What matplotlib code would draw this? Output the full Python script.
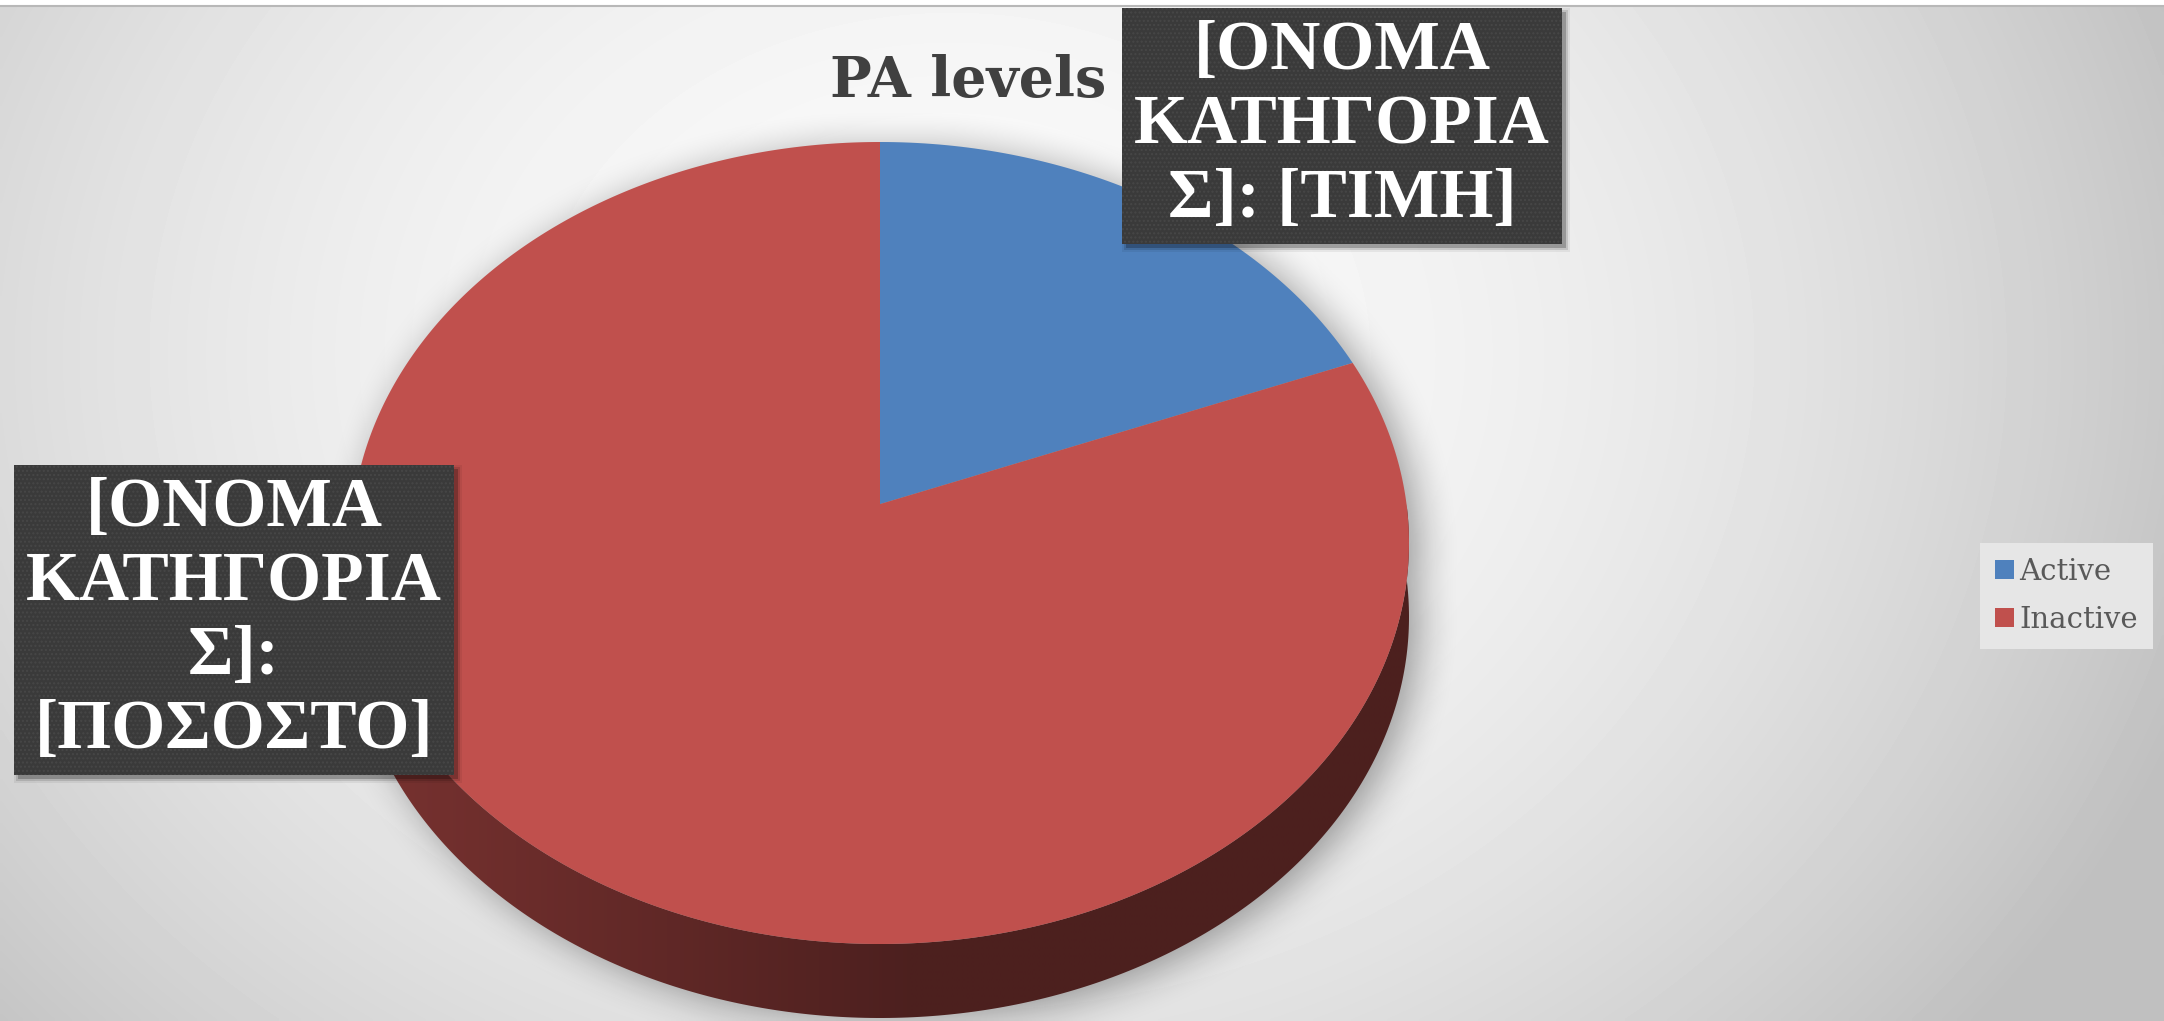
import numpy as np
import matplotlib
matplotlib.use('Agg')
import matplotlib.pyplot as plt
import matplotlib.transforms as mtransforms
from matplotlib.path import Path
from matplotlib.patches import PathPatch, Rectangle
from matplotlib.colors import LinearSegmentedColormap, to_rgb

# data
categories = ['Active', 'Inactive']
shares = [19, 81]
colors = ['#4f81bd', '#c0504d']
label_texts = ['[ΟΝΟΜΑ\nΚΑΤΗΓΟΡΙΑ\nΣ]: [ΤΙΜΗ]',
               '[ΟΝΟΜΑ\nΚΑΤΗΓΟΡΙΑ\nΣ]:\n[ΠΟΣΟΣΤΟ]']
title = 'PA levels'

W, H = 2164, 1021

# tilted disk seen in perspective (pixels, y grows downwards)
CX, CY = 880, 543
RX, RY = 529, 401
TILT = 0.097      # centre of the disk sits this much above the ellipse middle
DEPTH = 74        # thickness of the pie
COSH = 1 / np.sqrt(1 - TILT ** 2)
SINH = TILT * COSH


class DiskPerspective(mtransforms.Transform):
    input_dims = 2
    output_dims = 2

    def __init__(self, drop=0.0):
        super().__init__()
        self.drop = drop

    def transform_non_affine(self, values):
        pts = np.asarray(values, dtype=float)
        x, y = pts[:, 0], pts[:, 1]
        w = SINH * y + COSH
        u = CX + RX * x / w
        v = CY - RY * (COSH * y + SINH) / w + self.drop
        return np.column_stack([u, v])

    def transform_path_non_affine(self, path):
        # flatten the arcs first, the mapping is not affine
        t = np.linspace(0, 1, 40)
        pts = [seg(t) for seg, code in path.iter_bezier()]
        verts = np.concatenate(pts)
        return Path(self.transform_non_affine(verts), closed=True)


def blur(a, r):
    k = np.ones(2 * r + 1) / (2 * r + 1)
    for axis in (0, 1):
        a = np.apply_along_axis(lambda m: np.convolve(m, k, mode='same'), axis, a)
    return a


fig = plt.figure(figsize=(W / 100, H / 100), dpi=100)
fig.patch.set_facecolor('white')
ax = fig.add_axes([0, 0, 1, 1])

# background: light in the middle, greyer to the sides
gy, gx = np.mgrid[0:H:4, 0:W:4]
bg = 250 - 3.4e-5 * (gx - 950) ** 2 - 5e-5 * (gy - 350) ** 2
bg = np.clip(bg, 192, 255) / 255
ax.imshow(bg, cmap='gray', vmin=0, vmax=1, extent=(0, W, H, 7),
          interpolation='bilinear', aspect='auto', zorder=0)
ax.axhline(6.5, color='#b8b8b8', lw=1.5, zorder=1)

# top face of the pie
wedges, _ = ax.pie(shares, colors=colors, startangle=90, counterclock=False,
                   radius=1, center=(0, 0), wedgeprops=dict(linewidth=0))
top = DiskPerspective(0)
bottom = DiskPerspective(DEPTH)
for w in wedges:
    w.set_transform(top + ax.transData)
    w.set_zorder(4)

# side wall, only the front half of the rim is visible
bands = []
for w in wedges:
    for k in (-2, -1, 0, 1):
        a = max(w.theta1, 180 + 360 * k)
        b = min(w.theta2, 360 + 360 * k)
        if b <= a:
            continue
        t = np.radians(np.linspace(a, b, 300))
        rim = np.column_stack([np.cos(t), np.sin(t)]) * w.r + np.asarray(w.center)
        upper = top.transform(rim)
        lower = bottom.transform(rim)
        verts = np.vstack([upper, lower[::-1], upper[:1]])
        band = PathPatch(Path(verts, closed=True), fc='none', lw=0, zorder=3)
        ax.add_patch(band)
        bands.append(band)
        base = np.array(to_rgb(w.get_facecolor()))
        side_cmap = LinearSegmentedColormap.from_list('side', [base * 0.63, base * 0.40])
        x0, x1 = verts[:, 0].min(), verts[:, 0].max()
        y0, y1 = verts[:, 1].min(), verts[:, 1].max()
        shade = np.clip((np.linspace(x0, x1, 400) - x0) / 560, 0, 1)
        im = ax.imshow(shade[None, :], cmap=side_cmap, vmin=0, vmax=1,
                       extent=(x0, x1, y1, y0), aspect='auto',
                       interpolation='bilinear', zorder=3)
        im.set_clip_path(band)

# soft shadow under the pie
ring = np.radians(np.linspace(0, 360, 400))
circle = np.column_stack([np.cos(ring), np.sin(ring)])
sy, sx = np.mgrid[0:H:4, 0:W:4]
pts = np.column_stack([sx.ravel() - 8, sy.ravel() - 6])
inside = Path(top.transform(circle)).contains_points(pts)
inside |= Path(bottom.transform(circle)).contains_points(pts)
for band in bands:
    inside |= band.get_path().contains_points(pts)
mask = blur(blur(inside.reshape(sx.shape).astype(float), 5), 5)
shadow = np.zeros(mask.shape + (4,))
shadow[..., 3] = mask * 0.36
ax.imshow(shadow, extent=(0, W, H, 0), interpolation='bilinear',
          aspect='auto', zorder=2)

# data labels (dark boxes)
label_pos = [(1342, 126), (234, 620)]
labels = []
for txt, (x, y) in zip(label_texts, label_pos):
    lab = ax.text(x, y, txt, color='white', fontsize=50, fontweight='bold',
                  family='Liberation Serif', ha='center', va='center',
                  multialignment='center',
                  bbox=dict(boxstyle='square,pad=0.17', fc='#3a3a3a',
                            ec='#474747', lw=0, hatch='....'),
                  zorder=6)
    labels.append(lab)

ax.text(968, 97, title, ha='center', va='baseline', fontsize=40,
        fontweight='bold', family='DejaVu Serif', color='#404040', zorder=5)

ax.legend(wedges, categories, loc='upper left', bbox_to_anchor=(1980, 543),
          bbox_transform=ax.transData, frameon=True, fancybox=False,
          facecolor='#e6e6e6', edgecolor='none', framealpha=1,
          prop={'family': 'DejaVu Serif', 'size': 21}, labelcolor='#595959',
          handlelength=0.65, handleheight=0.65, handletextpad=0.2,
          labelspacing=0.7, borderpad=0.5, borderaxespad=0)

ax.set_xlim(0, W)
ax.set_ylim(H, 0)
ax.set_aspect('auto')
ax.axis('off')

# drop shadow behind the label boxes
fig.canvas.draw()
renderer = fig.canvas.get_renderer()
inv = ax.transData.inverted()
for lab in labels:
    bb = lab.get_bbox_patch().get_window_extent(renderer)
    (bx0, by0), (bx1, by1) = inv.transform([[bb.x0, bb.y0], [bb.x1, bb.y1]])
    for grow, alpha in ((0, 0.22), (2, 0.12), (4, 0.06)):
        ax.add_patch(Rectangle((min(bx0, bx1) + 4 - grow, min(by0, by1) + 4 - grow),
                               abs(bx1 - bx0) + 2 * grow, abs(by1 - by0) + 2 * grow,
                               fc='black', alpha=alpha, lw=0, zorder=5))

fig.savefig('out.png', dpi=100)
